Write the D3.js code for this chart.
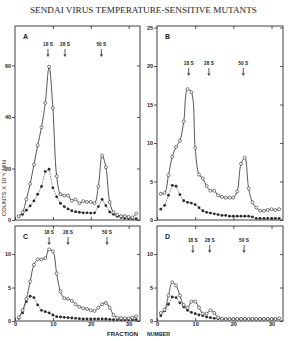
<!DOCTYPE html>
<html>
<head>
<meta charset="utf-8">
<script src="https://cdn.jsdelivr.net/npm/d3@7"></script>
<style>
  body { margin: 0; background: #fff; }
  svg { display: block; }
  text { fill: #222; font-family: "Liberation Sans", Arial, sans-serif; }
</style>
</head>
<body>
<script>
// fraction numbers (x)
const fractions = [1,2,3,4,5,6,7,8,9,10,11,12,13,14,15,16,17,18,19,20,21,22,23,24,25,26,27,28,29,30,31,32];

// panel A
const aOpen = [1.5,3,8,14,21.5,29,36,45.5,59.5,43.5,17,10,9.5,9.5,7.5,8,6.5,7.3,7,7,6.5,13,25,20.5,7,3,2,1.5,1.5,1.2,1,2.5];
const aFilled = [1.3,2.2,3.8,5.5,7.4,10,13,18.8,19.7,12.5,9,6.5,5.2,4.3,3.6,3.2,3,2.8,2.8,2.7,2.8,5.2,8,5.6,3.1,2.2,1.5,1,0.7,0.6,0.5,0.5];
const aTicks = [0,20,40,60];

// panel B
const bOpen = [3.4,3.5,5.8,8.2,9.5,10.3,12.8,17,16.6,9.4,5.9,5.4,4.4,3.8,3.8,3.2,3,2.9,2.9,2.9,3.7,7.3,8.1,4.1,2.3,1.6,1.2,1.2,1.3,1.4,1.3,1.4];
const bFilled = [1.4,1.9,3.2,4.5,4.4,3.3,2.5,2.3,2.2,2,1.6,1.2,1,0.9,0.8,0.7,0.6,0.6,0.5,0.5,0.5,0.5,0.5,0.5,0.4,0.2,0.2,0.2,0.2,0.2,0.2,0.2];
const bTicks = [0,5,10,15,20,25];

// panel C
const cOpen = [0.55,1.6,3.3,5.9,8.4,9.2,9.2,9.4,10.7,10.4,7.1,4.4,3.4,3.3,3,2.5,2.1,1.9,1.8,1.6,1.5,2,2.5,2.7,2,0.9,0.5,0.4,0.4,0.4,0.5,0.7];
const cFilled = [0.4,1.2,2.9,3.7,3.5,2.4,1.6,1.4,1.2,0.9,0.65,0.6,0.55,0.5,0.45,0.4,0.35,0.3,0.3,0.3,0.3,0.3,0.3,0.3,0.25,0.2,0.2,0.2,0.2,0.2,0.2,0.2];
const cTicks = [0,5,10];

// panel D
const dOpen = [1.2,1.7,3.8,5.8,5.3,3.8,2.4,2,2.9,2.9,2,1.1,1.1,1.6,1.2,0.5,0.35,0.3,0.3,0.3,0.3,0.3,0.3,0.3,0.3,0.3,0.3,0.3,0.3,0.3,0.3,0.4];
const dFilled = [0.8,1.5,2.5,3.6,3.5,2.7,2.1,1.6,1.3,1.1,0.9,0.8,0.6,0.5,0.4,0.35,0.3,0.3,0.3,0.3,0.3,0.3,0.3,0.3,0.3,0.3,0.3,0.3,0.3,0.3,0.3,0.4];
const dTicks = [0,5,10];

const xTicks = [0,10,20,30];

// sedimentation markers (fraction positions)
const markerNames = ["18 S", "28 S", "50 S"];
const aMarks = [8.7, 13.2, 22.8];
const bMarks = [8.3, 13.6, 22.6];
const cMarks = [9, 14, 24.3];
const dMarks = [9.4, 13.8, 22.8];

const panels = [
  { name: "A", left: 15, right: 140, top: 26, bottom: 220, yMax: 75.3, ticks: aTicks, open: aOpen, filled: aFilled, marks: aMarks, markY: 20, xLabels: false },
  { name: "B", left: 157, right: 283, top: 26, bottom: 220, yMax: 25.2, ticks: bTicks, open: bOpen, filled: bFilled, marks: bMarks, markY: 39, xLabels: false },
  { name: "C", left: 15, right: 140, top: 226, bottom: 321, yMax: 14.2, ticks: cTicks, open: cOpen, filled: cFilled, marks: cMarks, markY: 8, xLabels: true },
  { name: "D", left: 157, right: 283, top: 226, bottom: 321, yMax: 14.2, ticks: dTicks, open: dOpen, filled: dFilled, marks: dMarks, markY: 16, xLabels: true }
];

const ink = "#2a2a2a";

const svg = d3.select("body").append("svg")
  .attr("width", 295)
  .attr("height", 341);

svg.append("text")
  .attr("x", 143.5)
  .attr("y", 12.5)
  .attr("text-anchor", "middle")
  .attr("textLength", 227)
  .attr("lengthAdjust", "spacingAndGlyphs")
  .style("font-family", "'Liberation Serif', 'Times New Roman', serif")
  .style("font-size", "8.5px")
  .text("SENDAI VIRUS TEMPERATURE-SENSITIVE MUTANTS");

panels.forEach(p => {
  const x = d3.scaleLinear().domain([0, 33]).range([p.left, p.right]);
  const y = d3.scaleLinear().domain([0, p.yMax]).range([p.bottom, p.top]);
  const g = svg.append("g");

  // frame
  g.append("rect")
    .attr("x", p.left).attr("y", p.top)
    .attr("width", p.right - p.left).attr("height", p.bottom - p.top)
    .attr("fill", "none").attr("stroke", ink).attr("stroke-width", 0.9);

  // left axis (outward ticks with labels)
  const yl = g.append("g")
    .attr("transform", `translate(${p.left},0)`)
    .call(d3.axisLeft(y).tickValues(p.ticks).tickSize(3).tickPadding(1).tickFormat(d3.format("d")));
  // right axis (inward)
  const yr = g.append("g")
    .attr("transform", `translate(${p.right},0)`)
    .call(d3.axisLeft(y).tickValues(p.ticks).tickSize(3).tickFormat(""));
  // top axis (inward)
  const xt = g.append("g")
    .attr("transform", `translate(0,${p.top})`)
    .call(d3.axisBottom(x).tickValues(xTicks.slice(1)).tickSize(3).tickFormat(""));
  // bottom axis (inward, labels only on lower panels)
  const xb = g.append("g")
    .attr("transform", `translate(0,${p.bottom})`)
    .call(d3.axisTop(x).tickValues(xTicks).tickSize(3).tickFormat(""));
  if (p.xLabels) {
    g.append("g")
      .attr("transform", `translate(0,${p.bottom})`)
      .call(d3.axisBottom(x).tickValues(xTicks).tickSize(0).tickPadding(1.5).tickFormat(d3.format("d")))
      .call(a => a.select(".domain").remove());
  }
  [yl, yr, xt, xb].forEach(a => a.select(".domain").remove());
  g.selectAll(".tick line").attr("stroke", ink).attr("stroke-width", 0.8);
  g.selectAll(".tick text")
    .style("font-size", "5.5px")
    .style("font-weight", "bold")
    .style("fill", "#222");

  // panel letter
  g.append("text")
    .attr("x", p.left + 8).attr("y", p.top + 13)
    .style("font-size", "7px").style("font-weight", "bold")
    .text(p.name);

  // markers
  const mk = g.selectAll(".mark").data(p.marks).enter().append("g").attr("class", "mark");
  mk.append("text")
    .attr("x", d => x(d)).attr("y", p.top + p.markY)
    .attr("text-anchor", "middle")
    .style("font-size", "4.8px").style("font-weight", "bold")
    .text((d, i) => markerNames[i]);
  mk.append("line")
    .attr("x1", d => x(d)).attr("x2", d => x(d))
    .attr("y1", p.top + p.markY + 3).attr("y2", p.top + p.markY + 10)
    .attr("stroke", ink).attr("stroke-width", 0.8);
  mk.append("path")
    .attr("d", d => `M${x(d) - 1.2},${p.top + p.markY + 8} L${x(d)},${p.top + p.markY + 10.5} L${x(d) + 1.2},${p.top + p.markY + 8}`)
    .attr("fill", "none").attr("stroke", ink).attr("stroke-width", 0.7);

  // filled series
  const filledLine = d3.line().x((d, i) => x(fractions[i])).y(d => y(d)).curve(d3.curveLinear);
  g.append("path")
    .attr("d", filledLine(p.filled))
    .attr("fill", "none").attr("stroke", ink).attr("stroke-width", 0.6)
    .attr("stroke-dasharray", "1.5,1");
  g.selectAll(".fdot").data(p.filled).enter().append("circle")
    .attr("cx", (d, i) => x(fractions[i])).attr("cy", d => y(d))
    .attr("r", 1.4).attr("fill", ink);

  // open series
  const openLine = d3.line().x((d, i) => x(fractions[i])).y(d => y(d)).curve(d3.curveCatmullRom.alpha(0.5));
  g.append("path")
    .attr("d", openLine(p.open))
    .attr("fill", "none").attr("stroke", ink).attr("stroke-width", 0.8);
  g.selectAll(".odot").data(p.open).enter().append("circle")
    .attr("cx", (d, i) => x(fractions[i])).attr("cy", d => y(d))
    .attr("r", 1.5).attr("fill", "#fff").attr("stroke", ink).attr("stroke-width", 0.6);
});

// axis titles
svg.append("text")
  .attr("transform", "translate(6,188) rotate(-90)")
  .attr("text-anchor", "middle")
  .style("font-size", "5.8px")
  .text("COUNTS X 10⁻³/ MIN");

svg.append("text")
  .attr("x", 107).attr("y", 336)
  .style("font-size", "6px").style("font-weight", "bold")
  .attr("textLength", 31)
  .attr("lengthAdjust", "spacingAndGlyphs")
  .text("FRACTION");

svg.append("text")
  .attr("x", 147).attr("y", 336)
  .style("font-size", "6px").style("font-weight", "bold")
  .attr("textLength", 23)
  .attr("lengthAdjust", "spacingAndGlyphs")
  .text("NUMBER");
</script>
</body>
</html>
